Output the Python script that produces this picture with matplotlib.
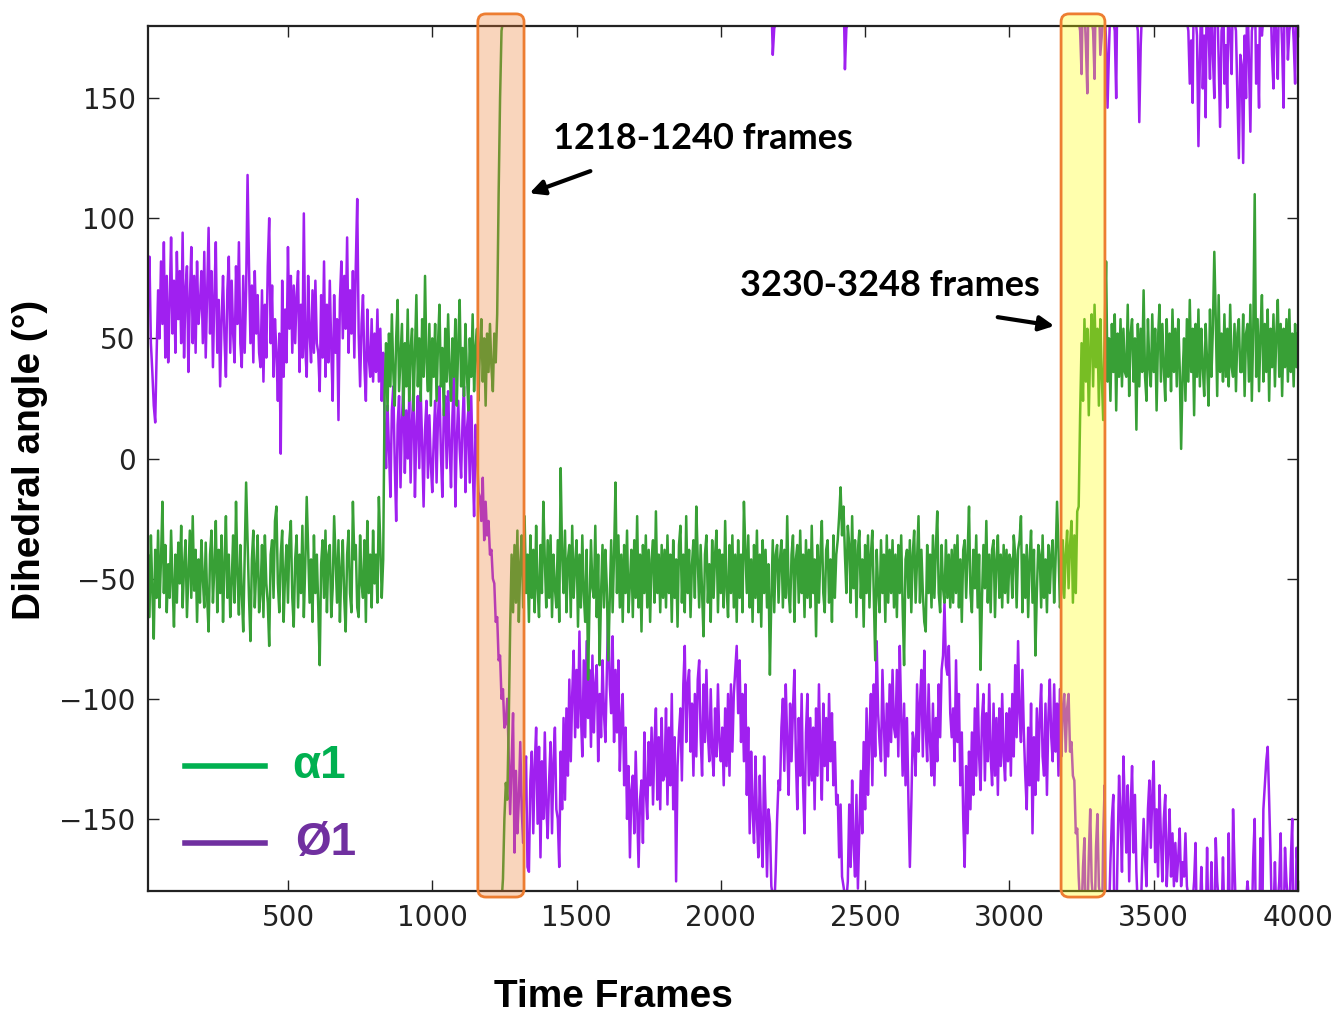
import numpy as np
import matplotlib.pyplot as plt
from matplotlib.lines import Line2D
from matplotlib.patches import FancyBboxPatch
from matplotlib import transforms
from matplotlib.colors import to_rgb

# alpha1 dihedral, one value every 5 frames (5 .. 4000)
alpha1 = [
    -28, -60, -40, -66, -32, -55, -75, -38, -58, -30,
    -62, -42, -18, -56, -36, -64, -44, -58, -30, -52,
    -70, -40, -60, -35, -52, -28, -62, -45, -34, -66,
    -48, -30, -58, -24, -55, -38, -68, -42, -60, -34,
    -50, -62, -35, -58, -72, -40, -30, -60, -45, -26,
    -64, -38, -56, -32, -68, -44, -24, -58, -40, -66,
    -52, -32, -60, -18, -48, -65, -36, -56, -72, -40,
    -10, -34, -58, -76, -42, -30, -62, -46, -32, -64,
    -56, -36, -66, -32, -52, -60, -78, -40, -34, -58,
    -26, -20, -52, -64, -40, -30, -68, -48, -36, -60,
    -34, -26, -58, -70, -42, -32, -62, -40, -56, -28,
    -66, -44, -16, -38, -60, -42, -68, -32, -56, -40,
    -62, -86, -44, -34, -58, -30, -64, -40, -36, -66,
    -54, -24, -42, -60, -34, -68, -46, -34, -58, -72,
    -40, -30, -56, -64, -18, -42, -36, -62, -66, -32,
    -52, -58, -34, -68, -26, -56, -40, -62, -30, -52,
    -40, -60, -16, -36, -58, -42, 28, 48, 20, 52,
    30, 60, 36, 22, 50, 66, 28, 42, 56, 18,
    48, 30, 62, 24, 46, 54, 20, 44, 68, 30,
    50, 24, 58, 34, 76, 40, 28, 56, 22, 50,
    34, 56, 24, 48, 64, 30, 46, 18, 54, 32,
    60, 36, 24, 50, 34, 58, 22, 48, 66, 30,
    46, 26, 56, 36, 20, 50, 34, 60, 28, 46,
    54, 24, 44, 58, 32, 50, 22, 52, 36, 56,
    38, 28, 52, 40, 60, 110, 150, 178, -175, -150,
    -135, -142, -110, -70, -40, -64, -36, -60, -30, -68,
    -44, -32, -62, -24, -56, -40, -68, -32, -58, -38,
    -64, -28, -54, -66, -36, -56, -18, -42, -62, -34,
    -58, -32, -66, -40, -54, -62, -34, -68, -4, -40,
    -56, -30, -64, -42, -36, -66, -28, -58, -44, -34,
    -70, -40, -62, -32, -56, -68, -38, -92, -60, -34,
    -54, -58, -28, -66, -40, -86, -56, -36, -62, -38,
    -54, -84, -58, -34, -64, -40, -10, -56, -32, -62,
    -40, -68, -36, -56, -30, -64, -52, -38, -66, -34,
    -58, -24, -62, -40, -72, -36, -56, -32, -62, -38,
    -68, -42, -34, -60, -22, -56, -40, -64, -36, -58,
    -38, -62, -32, -56, -40, -68, -34, -58, -42, -70,
    -36, -28, -60, -40, -64, -24, -56, -38, -66, -44,
    -34, -58, -20, -42, -62, -36, -56, -74, -40, -32,
    -60, -44, -68, -34, -58, -40, -30, -64, -38, -56,
    -40, -62, -26, -54, -66, -36, -56, -32, -62, -40,
    -68, -34, -58, -40, -64, -18, -38, -56, -32, -62,
    -42, -68, -36, -58, -30, -64, -40, -70, -34, -56,
    -38, -62, -44, -90, -58, -34, -64, -40, -36, -60,
    -42, -34, -62, -38, -58, -24, -56, -64, -40, -32,
    -68, -42, -36, -60, -30, -56, -40, -66, -34, -58,
    -38, -62, -28, -56, -42, -74, -36, -60, -40, -26,
    -56, -64, -38, -34, -60, -42, -68, -32, -58, -40,
    -34, -24, -12, -32, -20, -40, -56, -28, -36, -60,
    -24, -54, -34, -66, -38, -30, -58, -42, -70, -36,
    -56, -32, -62, -40, -30, -58, -84, -38, -54, -64,
    -34, -56, -40, -68, -32, -60, -38, -56, -34, -62,
    -40, -66, -36, -56, -32, -62, -86, -42, -38, -58,
    -34, -64, -40, -30, -60, -42, -24, -60, -38, -56,
    -68, -72, -36, -56, -40, -62, -32, -58, -38, -22,
    -56, -64, -36, -54, -60, -34, -58, -40, -62, -38,
    -60, -36, -56, -32, -62, -42, -68, -38, -34, -58,
    -40, -20, -56, -64, -38, -54, -32, -62, -40, -88,
    -58, -36, -54, -26, -60, -40, -64, -38, -34, -66,
    -42, -32, -58, -40, -62, -36, -56, -38, -60, -40,
    -42, -58, -32, -40, -62, -38, -34, -24, -64, -40,
    -58, -36, -66, -42, -30, -60, -38, -82, -56, -36,
    -40, -62, -32, -58, -42, -64, -36, -56, -40, -34,
    -60, -42, -18, -38, -62, -56, -34, -58, -40, -30,
    -54, -36, -26, -60, -32, -56, -22, -20, 18, 48,
    24, 58, 32, 54, 18, 46, 60, 30, 64, 38,
    54, 22, 58, 34, 16, 52, 82, 32, 50, 24,
    56, 36, 60, 20, 52, 34, 58, 30, 54, 36,
    34, 64, 26, 52, 58, 32, 50, 12, 56, 30,
    54, 36, 70, 34, 24, 58, 38, 30, 60, 36,
    54, 20, 50, 64, 32, 56, 38, 24, 58, 34,
    52, 28, 62, 36, 54, 30, 58, 38, 4, 34,
    50, 24, 58, 32, 66, 36, 54, 18, 56, 34,
    62, 30, 54, 38, 26, 56, 40, 22, 62, 34,
    54, 86, 58, 26, 68, 36, 52, 32, 60, 34,
    54, 30, 64, 38, 34, 56, 28, 52, 58, 36,
    36, 60, 26, 52, 56, 32, 64, 24, 54, 110,
    34, 58, 28, 52, 68, 32, 56, 36, 62, 24,
    54, 38, 60, 30, 52, 66, 34, 56, 26, 54,
    38, 58, 32, 62, 36, 52, 30, 56, 38, 52,
]

# phi1 dihedral, same frames
phi1 = [
    95, 100, 66, 84, 48, 36, 22, 15, 44, 70,
    50, 82, 56, 90, 42, 76, 40, 64, 92, 52,
    74, 44, 86, 58, 78, 48, 94, 42, 70, 80,
    36, 66, 88, 48, 76, 44, 82, 56, 64, 78,
    48, 86, 42, 70, 96, 52, 78, 38, 68, 90,
    44, 66, 30, 58, 76, 50, 34, 70, 84, 44,
    74, 52, 40, 80, 56, 90, 48, 38, 76, 44,
    70, 118, 80, 48, 72, 40, 78, 52, 68, 44,
    38, 70, 32, 64, 42, 80, 100, 48, 72, 34,
    58, 44, 24, 52, 2, 74, 34, 62, 40, 88,
    54, 76, 44, 72, 48, 68, 78, 36, 64, 42,
    102, 46, 34, 76, 52, 40, 70, 44, 74, 48,
    44, 28, 68, 42, 82, 34, 64, 40, 74, 46,
    24, 68, 44, 58, 16, 66, 82, 50, 76, 54,
    92, 44, 70, 52, 78, 42, 80, 108, 52, 30,
    56, 68, 38, 24, 62, 42, 34, 58, 32, 52,
    36, 62, 32, 54, 24, 44, 14, -4, 22, 4,
    -16, 20, 30, -2, -26, 14, 26, -12, 16, 32,
    -6, 20, 0, 24, -10, 16, 30, -16, 12, 26,
    -4, 28, 6, -20, 12, 24, -8, 18, -2, -14,
    8, 24, -10, 18, 30, 2, -16, 20, 26, -4,
    28, 6, -12, 18, 34, -20, 8, 24, 4, -8,
    16, 30, -14, 12, 20, -10, 26, -2, -24, 14,
    2, -14, -16, -26, -8, -34, -18, -32, -26, -40,
    -38, -50, -52, -68, -66, -84, -82, -100, -96, -112,
    -110, -100, -124, -148, -126, -106, -164, -130, -156, -142,
    -118, -146, -160, -132, -124, -170, -172, -134, -122, -156,
    -128, -112, -152, -120, -166, -126, -150, -114, -144, -158,
    -134, -118, -156, -126, -112, -146, -150, -170, -122, -146,
    -108, -142, -104, -132, -92, -126, -98, -80, -116, -88,
    -112, -72, -106, -124, -84, -116, -76, -108, -88, -120,
    -82, -114, -94, -86, -126, -98, -116, -84, -106, -118,
    -88, -60, -94, -106, -74, -118, -88, -114, -84, -130,
    -108, -98, -136, -112, -150, -128, -166, -138, -132, -156,
    -122, -146, -170, -142, -134, -160, -114, -138, -150, -118,
    -136, -112, -144, -118, -104, -142, -116, -146, -108, -134,
    -132, -104, -144, -112, -136, -98, -146, -116, -176, -128,
    -114, -104, -134, -94, -78, -118, -94, -88, -122, -102,
    -132, -98, -124, -92, -84, -116, -132, -94, -118, -88,
    -114, -126, -96, -122, -132, -104, -124, -94, -118, -126,
    -112, -136, -104, -128, -98, -132, -94, -122, -98, -88,
    -78, -106, -84, -118, -98, -126, -94, -140, -112, -156,
    -122, -146, -160, -124, -150, -166, -132, -156, -170, -124,
    -146, -174, -146, -152, -178, 168, 179, -172, -150, -134,
    -138, -112, -100, -130, -94, -118, -140, -102, -126, -104,
    -88, -124, -146, -108, -132, -98, -136, -156, -114, -98,
    -136, -108, -134, -112, -146, -104, -132, -94, -124, -142,
    -102, -128, -108, -134, -98, -126, -106, -136, -118, -144,
    -140, -166, -144, -174, -178, 162, 179, -176, -144, -170,
    -134, -160, -174, -140, -179, -154, -130, -156, -118, -146,
    -104, -140, -114, -98, -136, -94, -124, -76, -106, -118,
    -126, -88, -110, -132, -102, -124, -94, -118, -88, -112,
    -116, -88, -124, -78, -108, -132, -102, -136, -108, -142,
    -170, -144, -114, -118, -132, -94, -122, -102, -88, -124,
    -80, -112, -126, -94, -118, -132, -102, -136, -108, -126,
    -94, -116, -88, -82, -60, -86, -90, -78, -106, -116,
    -104, -126, -84, -118, -98, -136, -114, -150, -170, -128,
    -156, -122, -146, -114, -140, -104, -132, -94, -124, -138,
    -108, -98, -134, -106, -126, -94, -124, -136, -102, -132,
    -108, -140, -104, -128, -98, -124, -134, -106, -126, -104,
    -132, -98, -124, -86, -116, -76, -106, -118, -88, -114,
    -132, -146, -112, -136, -102, -156, -116, -140, -104, -134,
    -108, -94, -124, -132, -102, -140, -108, -92, -116, -126,
    -94, -122, -102, -132, -96, -124, -104, -98, -122, -104,
    -98, -122, -118, -132, -134, -156, -154, -174, 178, 160,
    -170, -158, 172, 152, -166, -146, -176, 178, 158, -162,
    -148, -178, 168, 176, -158, -136, 174, 146, 170, -168,
    -150, -140, 178, 150, -162, -132, -148, -172, -124, -146,
    -164, -136, -176, -146, -128, -164, -140, -172, 178, 140,
    172, -168, -150, -166, -178, -146, -134, -162, -140, -126,
    -168, -146, -174, -136, -158, -176, -150, -140, -178, -164,
    -146, -174, -156, -178, -160, -176, -166, -154, -178, -168,
    -174, -156, -178, 178, 156, 174, 148, -176, -160, 176,
    130, 166, -170, 154, 176, 142, -162, 178, 158, -168,
    168, 150, -158, -176, 166, 138, 178, -166, 156, 172,
    146, -156, 176, 160, -146, -170, 178, 152, 125, 168,
    164, 123, 176, 150, -176, 166, 136, 178, -166, -150,
    156, 172, 146, -158, 176, -146, -136, -126, -120, -142,
    -166, 168, 154, -168, 176, 158, -176, -156, 172, 146,
    -162, -176, 166, 178, -168, -150, 174, 156, -162, -172,
]

# highlighted transition windows (frames)
windows = [(1158, 1318), (3179, 3331)]
window_colors = ["#ed7d31", "#ffff00"]
notes = ["1218-1240 frames", "3230-3248 frames"]


def wrap_line(y):
    # when the angle wraps past +/-180, run the line off one edge and back in from the other
    x = 5 * np.arange(1, len(y) + 1)
    xs, ys = [], []
    for i in range(len(y)):
        if i > 0 and abs(y[i] - y[i - 1]) > 180:
            xm = (x[i] + x[i - 1]) / 2
            xs += [xm, np.nan, xm]
            ys += [np.sign(y[i - 1]) * 180, np.nan, np.sign(y[i]) * 180]
        xs.append(x[i])
        ys.append(y[i])
    return np.array(xs, float), np.array(ys, float)


fig = plt.figure(figsize=(13.37, 10.15), dpi=100)
ax = fig.add_axes([148 / 1337, 124 / 1015, 1150 / 1337, 865 / 1015])

px, py = wrap_line(phi1)
ax.plot(px, py, color="#a020f0", lw=1.8, zorder=2)
gx, gy = wrap_line(alpha1)
ax.plot(gx, gy, color="#38a036", lw=1.8, zorder=2.1)

ax.set_xlim(15, 4000)
ax.set_ylim(-180, 180)
ax.set_xticks([500, 1000, 1500, 2000, 2500, 3000, 3500, 4000])
ax.set_yticks([-150, -100, -50, 0, 50, 100, 150])
ax.tick_params(direction="in", length=8, width=1, top=True, right=True,
               labelsize=20, pad=9, colors="#222222")
for sp in ax.spines.values():
    sp.set_linewidth(1.6)
    sp.set_color("#222222")

# translucent highlight boxes reaching a little past the axes
blend = transforms.blended_transform_factory(ax.transData, ax.transAxes)
for (x0, x1), c in zip(windows, window_colors):
    box = FancyBboxPatch(
        (x0, -0.007), x1 - x0, 1.021,
        boxstyle="round,pad=0,rounding_size=28",
        mutation_aspect=0.00033,
        transform=blend, clip_on=False,
        facecolor=(*to_rgb(c), 0.32),
        edgecolor="#ed7d31", lw=2, zorder=3,
    )
    ax.add_patch(box)

note_font = dict(family="Lato", weight="bold", size=26, color="black")
ax.text(1938, 133, notes[0], ha="center", va="center", **note_font)
ax.text(2586, 72, notes[1], ha="center", va="center", **note_font)
arrow = dict(arrowstyle="-|>", color="black", lw=3, mutation_scale=22)
ax.annotate("", xy=(1328, 110), xytext=(1557, 120), arrowprops=arrow, zorder=4)
ax.annotate("", xy=(3165, 55), xytext=(2950, 59), arrowprops=arrow, zorder=4)

# hand-made legend
ax.add_line(Line2D([0.032, 0.102], [0.1445, 0.1445], transform=ax.transAxes,
                   color="#00b050", lw=4, zorder=5))
ax.add_line(Line2D([0.032, 0.102], [0.0555, 0.0555], transform=ax.transAxes,
                   color="#7030a0", lw=4, zorder=5))
ax.text(0.125, 0.1445, "α1", transform=ax.transAxes, ha="left", va="center",
        color="#00b050", family="Liberation Sans", weight="bold", size=33, zorder=5)
ax.text(0.128, 0.0555, "Ø1", transform=ax.transAxes, ha="left", va="center",
        color="#7030a0", family="Liberation Sans", weight="bold", size=33, zorder=5)

label_font = dict(family="Liberation Sans", weight="bold", size=28)
fig.text(613 / 1337, 1 - 997 / 1015, "Time Frames", ha="center", va="center", **label_font)
fig.text(30 / 1337, 1 - 460 / 1015, "Dihedral angle (°)", ha="center", va="center",
         rotation=90, **label_font)

fig.savefig("out.png", dpi=100)
plt.close(fig)
